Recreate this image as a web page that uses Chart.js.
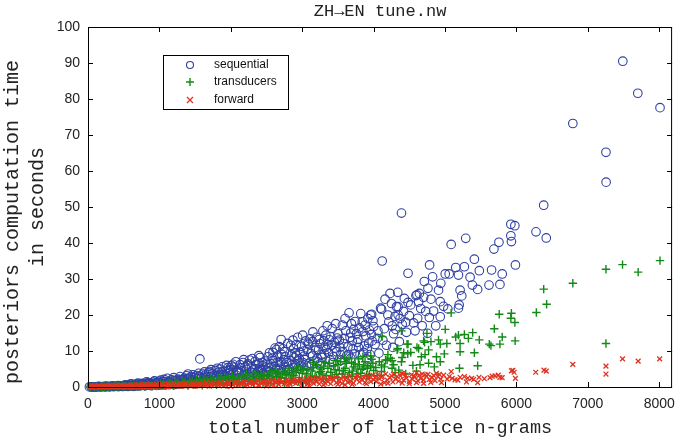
<!DOCTYPE html>
<html>
<head>
<meta charset="utf-8">
<script src="https://cdn.jsdelivr.net/npm/chart.js@4.4.1/dist/chart.umd.min.js"></script>
<style>
  html, body { margin: 0; padding: 0; background: #fff; }
  canvas { display: block; }
</style>
</head>
<body>
<canvas id="chart" width="684" height="441"></canvas>
<script>
// [n-grams, seconds]
const sequential = [
  [20,0.02],[45,0.03],[70,0.05],[95,0.04],[120,0.06],[150,0.08],[175,0.07],[200,0.1],[230,0.12],[260,0.1],[290,0.15],[320,0.14],[350,0.18],[380,0.2],[410,0.17],[440,0.25],[470,0.22],[500,0.3],
  [60,0.0],[110,0.01],[180,0.03],[240,0.05],[300,0.06],[360,0.09],[430,0.11],[490,0.14],
  [150,0.2],[250,0.28],[340,0.32],[420,0.4],[480,0.2],
  [530,0.35],[560,0.25],[590,0.45],[620,0.3],[650,0.55],[680,0.4],[710,0.6],[740,0.45],[770,0.75],[800,0.5],[830,0.85],[860,0.6],[890,0.95],[920,0.7],[950,1.1],[980,0.8],[1000,1.25],
  [560,0.15],[640,0.2],[720,0.28],[800,0.3],[880,0.38],[960,0.45],
  [520,0.6],[610,0.75],[690,0.9],[760,1.0],[840,1.2],[910,1.35],[990,1.6],[680,0.35],[880,0.55],
  [550,0.5],[600,0.9],[650,0.7],[700,1.1],[750,0.8],[820,1.4],[870,1.0],[930,1.7],[970,1.2],
  [1030,0.9],[1060,1.4],[1065,2.1],[1090,0.7],[1120,1.2],[1150,1.6],[1180,0.9],[1210,1.8],[1240,1.1],[1270,1.5],[1300,2.0],[1330,1.2],[1360,1.7],[1390,2.3],[1400,3.6],[1420,1.4],[1450,2.0],[1480,2.6],[1500,1.6],
  [1050,0.55],[1140,0.65],[1230,0.75],[1320,0.85],[1410,0.95],[1490,1.0],
  [1010,0.6],[1100,1.0],[1170,2.0],[1260,2.2],[1350,2.5],[1440,2.8],[1080,0.8],[1280,1.0],[1460,1.5],
  [1020,1.9],[1070,1.6],[1110,2.4],[1160,1.3],[1200,2.6],[1250,1.9],[1290,2.9],[1340,2.1],[1380,3.1],[1430,2.4],[1470,3.4],[1510,2.7],
  [1530,2.2],[1560,3.0],[1567,7.8],[1590,1.7],[1620,2.6],[1650,3.4],[1680,2.0],[1710,2.9],[1740,3.7],[1770,2.3],[1800,3.2],[1830,4.1],[1860,2.6],[1890,3.5],[1920,4.4],[1950,2.9],[1980,3.9],[2000,4.8],
  [1700,4.3],[1850,5.0],[1600,1.3],[1750,1.6],[1900,2.0],[1990,2.2],
  [1520,3.2],[1610,3.6],[1690,3.9],[1780,4.6],[1870,4.2],[1960,5.4],[1640,1.9],[1820,2.2],[2000,3.4],
  [1550,3.8],[1580,2.4],[1630,4.2],[1660,2.8],[1720,4.8],[1760,3.1],[1810,5.2],[1840,3.4],[1880,5.6],[1910,3.0],[1940,6.0],[1970,4.6],
  [2030,6.3],[2050,3.2],[2080,4.6],[2110,2.6],[2140,5.3],[2170,6.8],[2190,3.6],[2220,4.9],[2250,2.9],[2263,7.5],[2290,5.6],[2320,3.9],[2350,6.2],[2380,4.4],[2393,8.7],[2420,3.2],[2450,5.9],[2480,7.2],[2500,4.6],
  [2060,2.2],[2160,2.4],[2270,2.8],[2370,3.0],[2470,3.4],[2120,4.0],[2330,5.1],[2440,6.8],
  [2040,5.5],[2090,3.9],[2130,6.2],[2200,5.6],[2240,6.4],[2310,4.7],[2340,7.1],[2400,5.2],[2460,4.0],[2150,4.4],[2420,4.8],
  [2010,5.9],[2070,7.0],[2100,4.2],[2180,7.6],[2210,3.2],[2230,6.0],[2280,4.1],[2300,7.9],[2360,3.6],[2390,6.6],[2410,8.2],[2490,5.5],
  [2530,5.4],[2542,9.5],[2570,3.6],[2600,7.3],[2630,4.8],[2660,8.6],[2690,6.1],[2705,13.2],[2720,4.2],[2750,9.8],[2780,6.8],[2797,12.1],[2820,5.0],[2850,8.9],[2880,10.7],[2910,6.3],[2936,13.8],[2960,7.8],[2990,11.3],
  [2560,6.5],[2640,10.4],[2740,7.6],[2840,11.6],[2940,5.2],[2610,3.9],[2810,4.5],[2900,9.4],[2680,11.2],
  [2510,6.6],[2580,8.0],[2620,5.6],[2650,6.9],[2710,9.1],[2770,5.6],[2830,7.3],[2870,13.0],[2890,8.1],[2920,11.8],[2970,9.6],[2680,5.2],[2940,7.2],
  [2520,8.4],[2550,4.2],[2590,9.6],[2620,10.8],[2670,4.6],[2700,7.0],[2730,10.6],[2760,8.4],[2790,4.8],[2860,6.2],[2880,5.4],[2920,8.8],[2980,6.0],
  [3006,14.4],[3030,8.6],[3060,5.8],[3090,11.9],[3120,9.3],[3145,12.6],[3170,7.2],[3200,13.8],[3230,10.4],[3260,6.5],[3290,15.6],[3310,9.2],[3331,14.4],[3360,11.8],[3390,7.6],[3420,16.2],[3450,12.4],[3480,9.8],[3500,14.8],
  [3050,12.8],[3150,15.3],[3250,12.0],[3350,17.0],[3440,8.4],[3100,6.6],[3210,8.0],[3380,13.1],[3470,17.6],
  [3010,6.8],[3070,10.4],[3110,13.4],[3180,11.0],[3220,7.0],[3270,9.0],[3300,12.8],[3340,10.4],[3400,14.0],[3460,10.8],[3130,6.2],[3430,6.8],
  [3020,10.0],[3040,7.6],[3080,12.2],[3140,8.6],[3190,10.2],[3240,13.2],[3280,8.2],[3320,11.0],[3370,9.4],[3410,11.6],[3490,13.6],
  [3530,11.0],[3563,17.2],[3590,13.5],[3620,8.6],[3656,20.6],[3680,15.0],[3710,10.6],[3740,18.2],[3770,12.4],[3800,16.4],[3841,18.1],[3860,9.6],[3890,14.2],[3920,19.0],[3958,20.0],[3980,12.8],[4000,16.8],
  [3550,7.4],[3650,9.0],[3760,14.8],[3870,11.4],[3940,15.8],[3600,19.0],[3700,12.8],[3820,20.4],[3900,7.8],[3972,20.2],
  [3520,13.0],[3570,9.8],[3610,15.6],[3690,17.6],[3730,9.2],[3790,11.0],[3850,15.4],[3910,10.6],[3990,18.4],[3680,8.0],[3950,9.0],
  [3540,9.0],[3580,12.0],[3640,11.2],[3670,13.8],[3720,16.0],[3780,13.2],[3810,9.0],[3880,17.2],[3930,12.2],[3970,14.6],
  [4097,21.9],[4120,35.0],[4111,21.6],[4213,18.1],[4074,9.4],[4050,13.5],[4150,16.2],[4180,11.6],[4250,23.2],[4280,14.8],[4300,19.6],[4320,22.3],[4343,22.3],[4338,26.3],[4343,20.0],[4360,12.6],[4390,48.3],[4400,17.4],[4430,24.6],[4460,15.2],[4482,31.6],[4482,23.5],[4500,19.8],
  [4230,26.0],[4160,24.4],[4270,11.0],[4420,21.0],
  [4020,11.8],[4060,15.6],[4130,13.0],[4200,20.0],[4260,17.0],[4310,16.0],[4370,19.0],[4450,18.0],
  [4593,25.4],[4617,19.1],[4641,26.0],[4607,25.6],[4700,24.9],[4710,29.3],[4756,14.9],[4761,27.4],[4780,19.3],[4784,33.9],[4803,24.4],[4826,30.6],[4840,21.1],[4909,26.9],[4933,23.7],[4933,19.5],[4941,28.8],
  [4560,17.8],[4660,21.8],[4870,17.0],[4980,22.4],[4520,22.8],[4580,15.6],[4630,23.6],[4680,17.0],[4730,21.0],
  [5003,31.4],[5039,21.7],[5058,31.4],[5086,39.6],[5150,33.2],[5188,31.1],[5198,22.8],[5188,21.9],[5211,26.9],[5234,25.3],[5271,33.4],[5290,41.3],[5351,30.5],[5383,28.3],[5411,35.5],[5457,27.1],[5480,32.3],
  [5616,28.3],[5652,32.5],[5685,38.3],[5755,40.2],[5769,28.5],[5801,31.4],[5922,45.2],[5978,44.8],[5922,42.0],[5930,40.4],[5986,33.9],
  [6274,43.1],[6382,50.5],[6418,41.4],[6790,73.2],[7254,65.2],[7256,56.9],[7490,90.5],[7700,81.6],[8011,77.6]
];

const transducers = [
  [30,0.01],[80,0.02],[130,0.03],[180,0.05],[230,0.06],[280,0.08],[330,0.1],[380,0.12],[430,0.14],[480,0.16],[530,0.18],[580,0.22],[630,0.25],[680,0.3],[730,0.28],[780,0.35],[830,0.4],[880,0.38],[930,0.45],[980,0.5],
  [600,0.1],[700,0.14],[800,0.18],[900,0.22],[1000,0.3],
  [100,0.05],[200,0.08],[300,0.12],[400,0.16],[500,0.22],[650,0.35],[750,0.42],[850,0.5],[950,0.6],
  [1040,0.6],[1090,0.4],[1140,0.75],[1190,0.5],[1240,0.9],[1290,0.6],[1340,1.0],[1390,0.7],[1440,1.2],[1490,0.8],[1540,1.3],[1590,0.9],[1640,1.5],[1690,1.0],[1740,1.7],[1790,1.1],[1840,1.9],[1890,1.2],[1940,2.1],[1990,1.4],
  [1200,0.3],[1400,0.4],[1600,0.5],[1800,0.6],[1950,0.7],[1567,2.2],
  [1060,0.8],[1160,1.0],[1260,1.1],[1360,1.3],[1460,1.5],[1560,1.6],[1660,1.8],[1760,2.0],[1860,2.3],[1960,2.5],[1100,0.5],[1500,0.7],[1700,0.8],
  [1020,0.9],[1120,1.2],[1220,1.3],[1320,1.5],[1420,1.7],[1520,1.9],[1620,2.1],[1720,2.3],[1820,2.6],[1920,2.8],
  [2040,2.3],[2080,1.2],[2120,2.0],[2160,0.9],[2200,2.6],[2240,1.5],[2280,2.2],[2320,1.1],[2360,2.9],[2400,1.7],[2440,2.4],[2480,1.3],[2520,3.2],[2565,4.3],[2600,2.0],[2640,3.0],[2680,1.4],[2720,3.6],[2760,2.4],[2800,4.0],[2840,1.8],[2880,3.2],[2920,4.6],[2960,2.6],[3000,3.8],
  [2150,3.0],[2350,1.9],[2550,1.0],[2750,1.2],[2950,1.6],
  [2060,1.7],[2180,2.8],[2260,3.3],[2300,1.6],[2420,3.4],[2500,2.3],[2580,2.8],[2660,3.9],[2700,2.6],[2780,3.4],[2860,2.8],[2900,4.2],[2980,4.9],[2000,1.0],[2450,1.0],[2650,1.2],[2850,1.3],
  [2020,3.0],[2100,2.5],[2220,3.6],[2340,3.8],[2460,3.0],[2540,4.0],[2620,4.6],[2740,4.4],[2820,5.2],[2940,5.6],
  [3040,2.2],[3080,4.8],[3120,3.1],[3160,5.4],[3200,2.6],[3240,4.0],[3262,4.3],[3300,5.8],[3340,3.2],[3380,6.6],[3420,2.8],[3460,4.8],[3500,6.2],[3540,7.0],[3560,3.6],[3600,5.2],[3640,2.9],[3656,7.8],[3700,4.4],[3740,6.4],[3786,7.8],[3820,3.8],[3860,5.6],[3911,5.2],[3940,3.4],[3958,5.6],[3972,7.7],[4000,4.6],
  [3100,1.8],[3300,2.2],[3500,2.6],[3700,3.0],[3900,3.2],[3580,4.6],[3800,6.2],[3200,6.2],
  [3060,3.6],[3140,4.4],[3180,2.9],[3260,5.0],[3320,6.8],[3400,4.1],[3440,5.9],[3480,3.5],[3520,4.6],[3620,6.6],[3660,4.0],[3720,5.6],[3760,3.6],[3840,4.9],[3880,7.0],[3920,6.0],[3990,6.6],[3050,1.4],
  [3020,5.2],[3150,6.8],[3280,3.6],[3360,5.2],[3470,7.4],[3590,8.2],[3690,6.8],[3780,5.0],[3850,8.4],[3960,8.6],
  [4111,4.3],[4111,6.1],[4120,14.0],[4167,7.5],[4189,7.5],[4237,8.0],[4259,7.3],[4259,5.2],[4329,10.3],[4338,10.7],[4352,4.7],[4390,7.0],[4390,15.6],[4422,9.5],[4468,11.9],[4478,9.2],[4482,11.9],
  [4030,5.4],[4080,7.0],[4200,9.0],[4280,6.2],[4400,8.2],[4520,9.6],[4650,6.2],[4720,9.0],[4880,8.4],[4990,9.2],
  [4607,11.0],[4631,10.7],[4669,8.4],[4700,12.8],[4714,12.4],[4747,14.9],[4770,10.3],[4770,6.6],[4803,12.6],[4909,13.1],[4933,11.9],[4933,7.0],
  [5003,16.0],[5025,12.1],[5086,20.6],[5150,13.9],[5188,14.4],[5202,5.2],[5211,12.1],[5211,9.8],[5271,14.6],[5327,13.5],[5387,15.1],[5411,9.5],[5457,5.9],[5480,13.1],
  [5620,11.9],[5643,11.5],[5690,16.2],[5759,20.2],[5769,11.9],[5801,13.9],[5930,20.5],[5922,19.1],[5978,17.9],[5982,12.8],
  [6279,20.7],[6382,27.2],[6423,23.0],[6790,28.8],[7254,32.7],[7254,12.1],[7486,34.0],[7705,31.9],[8011,35.1],
  [4050,3.2],[4150,5.6],[4300,4.0],[4450,3.6],[4550,6.0],[4600,4.4],[4850,5.6]
];

const forward = [
  [20,0.0],[60,0.01],[100,0.01],[140,0.02],[180,0.02],[220,0.03],[260,0.03],[300,0.04],[340,0.05],[380,0.05],[420,0.06],[460,0.07],[500,0.08],[540,0.08],[580,0.09],[620,0.1],[660,0.11],[700,0.12],[740,0.13],[780,0.14],[820,0.15],[860,0.16],[900,0.17],[940,0.18],[980,0.2],
  [600,0.2],[800,0.25],[950,0.3],
  [40,0.1],[120,0.12],[200,0.14],[280,0.16],[360,0.18],[440,0.2],[520,0.22],[700,0.26],[760,0.3],[880,0.32],[1000,0.4],
  [30,0.3],[90,0.35],[160,0.4],[230,0.4],[310,0.45],[390,0.5],[470,0.5],[550,0.55],[630,0.6],[710,0.6],[790,0.65],[870,0.7],[960,0.75],
  [1030,0.22],[1080,0.3],[1130,0.18],[1180,0.35],[1230,0.25],[1280,0.4],[1330,0.28],[1380,0.45],[1430,0.3],[1480,0.5],[1530,0.34],[1580,0.55],[1630,0.38],[1680,0.6],[1730,0.42],[1780,0.66],[1830,0.46],[1880,0.72],[1930,0.5],[1980,0.78],
  [1100,0.1],[1300,0.15],[1500,0.2],[1700,0.24],[1900,0.28],
  [1150,0.5],[1250,0.6],[1350,0.65],[1450,0.7],[1550,0.75],[1650,0.8],[1750,0.85],[1850,0.9],[1950,1.0],
  [1040,0.8],[1120,0.85],[1200,0.9],[1290,0.95],[1370,1.0],[1470,1.05],[1560,1.1],[1660,1.2],[1760,1.25],[1860,1.3],[1970,1.4],
  [2030,0.6],[2070,0.9],[2110,0.45],[2150,0.8],[2190,1.0],[2230,0.55],[2270,0.95],[2310,0.7],[2350,1.1],[2390,0.6],[2430,1.0],[2470,1.25],[2510,0.75],[2550,1.15],[2590,0.85],[2630,1.35],[2670,0.7],[2710,1.2],[2750,0.9],[2790,1.45],[2830,0.8],[2870,1.3],[2910,1.0],[2950,1.55],[2990,0.9],
  [2200,0.3],[2400,0.35],[2600,0.4],[2800,0.5],[3000,0.55],
  [2050,1.1],[2130,1.2],[2250,1.3],[2330,1.35],[2450,1.4],[2530,1.5],[2650,1.55],[2730,1.6],[2850,1.7],[2930,1.75],[2000,0.2],[2500,0.3],
  [2080,1.5],[2180,1.55],[2290,1.65],[2380,1.7],[2490,1.8],[2590,1.9],[2690,2.0],[2790,2.05],[2890,2.1],[2970,2.2],
  [3040,1.3],[3080,0.8],[3120,1.6],[3160,1.0],[3200,1.4],[3240,0.85],[3280,1.8],[3320,1.1],[3360,1.5],[3400,0.9],[3440,1.9],[3480,1.2],[3520,1.6],[3560,1.0],[3600,2.1],[3640,1.3],[3680,1.7],[3720,1.1],[3760,2.2],[3800,1.4],[3840,1.9],[3880,1.2],[3920,2.4],[3960,1.5],[4000,2.0],
  [3300,0.6],[3500,0.7],[3700,0.75],[3900,0.9],
  [3020,1.8],[3100,2.0],[3180,1.9],[3260,2.2],[3340,2.0],[3420,2.3],[3540,2.4],[3620,2.5],[3740,2.6],[3820,2.5],[3860,2.7],[3940,2.8],[3100,0.4],[3600,0.6],
  [3060,2.3],[3150,2.4],[3230,2.5],[3310,2.6],[3390,2.55],[3470,2.8],[3580,2.9],[3660,2.95],[3780,3.1],[3900,3.2],[3990,3.3],
  [4040,1.5],[4080,2.3],[4111,2.7],[4150,1.2],[4190,1.9],[4230,2.6],[4270,1.4],[4310,2.2],[4350,1.6],[4376,3.1],[4390,3.8],[4420,1.9],[4460,2.5],[4500,1.5],[4540,2.2],[4580,2.8],[4620,1.7],[4660,2.4],[4700,1.9],[4740,3.0],[4780,2.1],[4820,2.6],[4860,1.8],[4900,2.9],[4940,2.2],[4980,3.3],[5086,4.3],
  [4200,1.0],[4400,1.1],[4600,1.2],[4800,1.3],
  [4020,2.6],[4120,3.0],[4250,3.1],[4330,2.9],[4450,3.2],[4560,3.0],[4640,3.3],[4720,3.4],[4840,3.2],[4920,3.5],[4100,0.8],[4500,0.9],[4700,1.0],[4950,1.2],
  [4060,3.4],[4170,3.6],[4290,3.5],[4410,3.7],[4530,3.4],[4600,3.9],[4680,3.6],[4760,3.5],[4880,3.8],
  [5030,2.2],[5060,2.9],[5140,2.0],[5211,2.7],[5271,2.9],[5373,2.4],[5457,1.2],[5476,2.7],[5630,2.6],[5660,3.0],[5745,3.3],[5769,2.7],[5800,2.6],[5930,4.5],[5950,4.6],[5968,4.1],[5986,2.4],
  [6270,4.1],[6386,4.7],[6418,4.4],[6790,6.3],[7254,5.8],[7254,3.6],[7486,7.8],[7705,7.2],[8006,7.8],
  [5100,2.4],[5180,1.9],[5320,2.5],[5400,2.1],[5550,2.3],[5700,3.1],[5300,1.4]
];

const seriesNames = ["sequential", "transducers", "forward"];
const xTicks = [0, 1000, 2000, 3000, 4000, 5000, 6000, 7000, 8000];
const yTicks = [0, 10, 20, 30, 40, 50, 60, 70, 80, 90, 100];

const BLUE = "#2f41a3", GREEN = "#138a16", RED = "#e2321f";
const MONO = "'Liberation Mono', 'DejaVu Sans Mono', monospace";
const SANS = "'Liberation Sans', Arial, sans-serif";

const toXY = arr => arr.map(p => ({ x: p[0], y: p[1] }));

// frame, inward ticks, titles and legend box
const decorations = {
  id: "decorations",
  afterDraw(chart) {
    const { ctx, chartArea: a, scales } = chart;
    ctx.save();
    ctx.strokeStyle = "#000";
    ctx.lineWidth = 1;
    ctx.strokeRect(a.left + 0.5, a.top + 0.5, a.right - a.left - 1, a.bottom - a.top);
    ctx.beginPath();
    xTicks.forEach(v => {
      const px = Math.round(scales.x.getPixelForValue(v)) + 0.5;
      ctx.moveTo(px, a.bottom); ctx.lineTo(px, a.bottom - 5);
      ctx.moveTo(px, a.top); ctx.lineTo(px, a.top + 5);
    });
    yTicks.forEach(v => {
      const py = Math.round(scales.y.getPixelForValue(v)) + 0.5;
      ctx.moveTo(a.left, py); ctx.lineTo(a.left + 5, py);
      ctx.moveTo(a.right, py); ctx.lineTo(a.right - 5, py);
    });
    ctx.stroke();

    ctx.fillStyle = "#222";
    ctx.textAlign = "center";
    ctx.textBaseline = "middle";
    ctx.font = "17px " + MONO;
    ctx.fillText("ZH\u2192EN tune.nw", (a.left + a.right) / 2, 11);
    ctx.font = "18.5px " + MONO;
    ctx.fillText("total number of lattice n-grams", (a.left + a.right) / 2, 428);
    ctx.save();
    ctx.translate(13, 0);
    ctx.rotate(-Math.PI / 2);
    ctx.font = "20px " + MONO;
    ctx.fillText("posteriors computation time", -222, 0);
    ctx.fillText("in seconds", -207, 25);
    ctx.restore();

    // legend
    const lx = 163, ly = 55, lw = 125, lh = 54;
    ctx.fillStyle = "#fff";
    ctx.fillRect(lx, ly, lw, lh);
    ctx.strokeStyle = "#000";
    ctx.strokeRect(lx + 0.5, ly + 0.5, lw, lh);
    const rows = [65, 82, 100];
    chart.data.datasets.forEach((ds, i) => {
      const y = rows[i];
      ctx.strokeStyle = ds.borderColor;
      ctx.lineWidth = ds.borderWidth;
      ctx.beginPath();
      if (ds.pointStyle === "circle") {
        ctx.arc(190, y, 3.5, 0, Math.PI * 2);
      } else if (ds.pointStyle === "cross") {
        ctx.moveTo(186, y); ctx.lineTo(194, y);
        ctx.moveTo(190, y - 4); ctx.lineTo(190, y + 4);
      } else {
        ctx.moveTo(187, y - 3); ctx.lineTo(193, y + 3);
        ctx.moveTo(193, y - 3); ctx.lineTo(187, y + 3);
      }
      ctx.stroke();
      ctx.fillStyle = "#111";
      ctx.textAlign = "left";
      ctx.font = "12px " + SANS;
      ctx.fillText(ds.label, 214, y);
    });
    ctx.restore();
  }
};

new Chart(document.getElementById("chart"), {
  type: "scatter",
  data: {
    datasets: [
      {
        label: seriesNames[0], data: toXY(sequential), pointStyle: "circle",
        radius: 4.3, borderColor: BLUE, backgroundColor: "rgba(0,0,0,0)", borderWidth: 1.1, order: 3
      },
      {
        label: seriesNames[1], data: toXY(transducers), pointStyle: "cross",
        radius: 4.2, borderColor: GREEN, backgroundColor: GREEN, borderWidth: 1.4, order: 2
      },
      {
        label: seriesNames[2], data: toXY(forward), pointStyle: "crossRot",
        radius: 3.4, borderColor: RED, backgroundColor: RED, borderWidth: 1.3, order: 1
      }
    ]
  },
  options: {
    responsive: false,
    animation: false,
    devicePixelRatio: 1,
    clip: false,
    layout: { padding: { top: 27, right: 9, left: 0, bottom: 0 } },
    plugins: { legend: { display: false }, title: { display: false }, tooltip: { enabled: false } },
    scales: {
      x: {
        type: "linear", min: 0, max: 8180,
        afterFit: s => { s.height = 54; },
        afterBuildTicks: s => { s.ticks = xTicks.map(v => ({ value: v })); },
        grid: { display: false, drawTicks: false },
        border: { display: false },
        ticks: { padding: 9, color: "#222", font: { family: SANS, size: 14 }, maxRotation: 0, callback: v => String(v) }
      },
      y: {
        type: "linear", min: 0, max: 100,
        afterFit: s => { s.width = 88; },
        afterBuildTicks: s => { s.ticks = yTicks.map(v => ({ value: v })); },
        grid: { display: false, drawTicks: false },
        border: { display: false },
        ticks: { padding: 8, color: "#222", font: { family: SANS, size: 14 }, callback: v => String(v) }
      }
    }
  },
  plugins: [decorations]
});
</script>
</body>
</html>
